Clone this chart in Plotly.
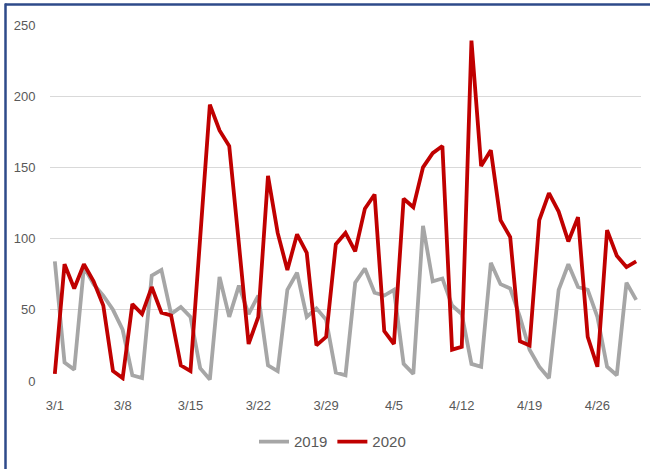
import plotly.graph_objects as go

dates = [f"3/{d}" for d in range(1, 32)] + [f"4/{d}" for d in range(1, 31)]

y2019 = [84, 13, 8, 80, 68, 60, 50, 36, 4, 2,
         74, 78, 47, 52, 45, 9, 1, 73, 45, 67,
         47, 60, 11, 7, 64, 76, 45, 51, 43, 6,
         4, 69, 79, 62, 60, 64, 12, 5, 109, 70,
         72, 53, 47, 12, 10, 83, 68, 65, 45, 22,
         10, 2, 64, 82, 66, 64, 45, 10, 4, 69, 57]

y2020 = [5, 82, 65, 82, 70, 53, 7, 2, 54, 47,
         66, 48, 46, 11, 7, 100, 194, 176, 165, 96,
         26, 45, 144, 104, 78, 103, 90, 25, 31, 96,
         104, 91, 121, 131, 35, 26, 128, 122, 150, 160,
         165, 22, 24, 239, 151, 162, 113, 101, 28, 25,
         113, 132, 119, 98, 115, 31, 10, 106, 88, 80, 84]

tick_labels = ["3/1", "3/8", "3/15", "3/22", "3/29", "4/5", "4/12", "4/19", "4/26"]
y_ticks = [0, 50, 100, 150, 200, 250]

W, H = 650, 469
ml, mr, mt, mb = 50, 9, 25, 88
pw, ph = W - ml - mr, H - mt - mb

def px_x(p):
    return (p - ml) / pw

def px_y(p):
    return (H - mb - p) / ph

font_family = "Liberation Sans, Arial, sans-serif"

fig = go.Figure()
fig.add_trace(go.Scatter(x=dates, y=y2019, mode="lines", name="2019",
                         line=dict(color="#A6A6A6", width=3.8)))
fig.add_trace(go.Scatter(x=dates, y=y2020, mode="lines", name="2020",
                         line=dict(color="#C00000", width=3.8)))

fig.update_layout(
    width=W, height=H,
    margin=dict(l=ml, r=mr, t=mt, b=mb, autoexpand=False),
    paper_bgcolor="white", plot_bgcolor="white",
    font=dict(family=font_family, color="#595959", size=13),
    showlegend=True,
    legend=dict(orientation="h", x=0.478, xanchor="center", y=-0.171, yanchor="middle",
                font=dict(size=15, color="#595959"), itemwidth=30,
                traceorder="normal", bgcolor="rgba(0,0,0,0)"),
    xaxis=dict(type="category", range=[-0.5, 60.5], tickmode="array",
               tickvals=tick_labels, ticktext=tick_labels, showgrid=False,
               ticks="outside", ticklen=12, tickcolor="rgba(0,0,0,0)",
               showline=False, zeroline=False, tickfont=dict(size=13, color="#595959")),
    yaxis=dict(range=[0, 250], tickvals=y_ticks, showgrid=True, gridcolor="#D9D9D9",
               gridwidth=1.3, zeroline=False, showline=False,
               ticks="outside", ticklen=11, tickcolor="rgba(0,0,0,0)",
               tickfont=dict(size=13, color="#595959")),
    shapes=[
        dict(type="line", xref="paper", yref="paper",
             x0=px_x(5), x1=px_x(W + 5), y0=px_y(4.5), y1=px_y(4.5),
             line=dict(color="#2E4A8A", width=2.5)),
        dict(type="line", xref="paper", yref="paper",
             x0=px_x(5.5), x1=px_x(5.5), y0=px_y(3.5), y1=px_y(H + 5),
             line=dict(color="#2E4A8A", width=2.5)),
    ],
)

fig.write_html("out.html", config={"displayModeBar": False},
               post_script="document.body.style.margin='0';")
